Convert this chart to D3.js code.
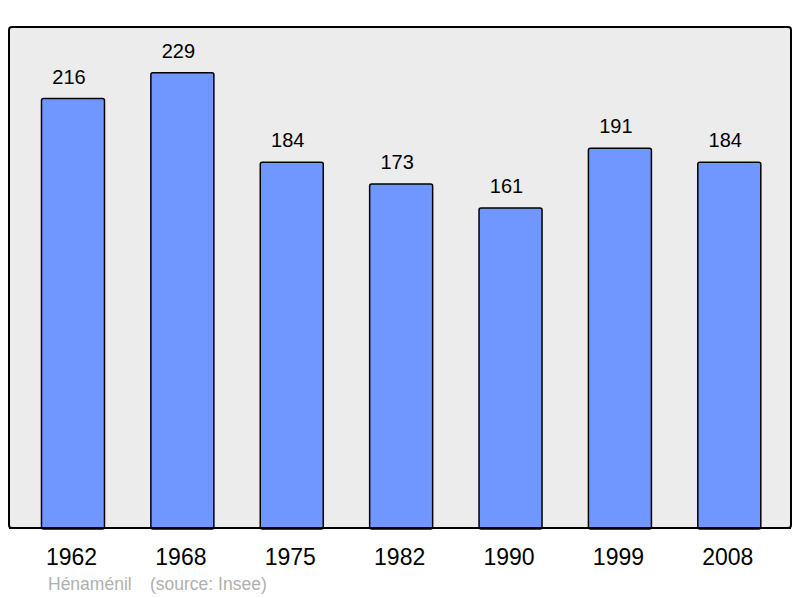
<!DOCTYPE html>
<html><head><meta charset="utf-8">
<script src="https://cdn.jsdelivr.net/npm/d3@7"></script>
<style>body{margin:0;background:#fff}svg{display:block}</style>
</head><body>
<svg id="c" width="800" height="598"></svg>
<script>
const years = ["1962","1968","1975","1982","1990","1999","2008"];
const population = [216,229,184,173,161,191,184];
const footerName = "Hénaménil";
const footerSource = "(source: Insee)";

const svg = d3.select("#c");
const frame = {x0:9, y0:27, x1:791, y1:528};
svg.append("rect").attr("x",frame.x0).attr("y",frame.y0)
  .attr("width",frame.x1-frame.x0).attr("height",frame.y1-frame.y0)
  .attr("rx",3).attr("fill","#ececec").attr("stroke","#000").attr("stroke-width",2);

const x = d3.scaleBand().domain(years).range([18.3,784]).paddingInner(0.424).paddingOuter(0.212);
const y = d3.scaleLinear().domain([0,252]).range([frame.y1, frame.y0]);

const g = svg.append("g");
g.selectAll("rect.bar").data(population).join("rect").attr("class","bar")
  .attr("x",(d,i)=>x(years[i])).attr("width",x.bandwidth())
  .attr("y",d=>y(d)).attr("height",d=>frame.y1-y(d)+1)
  .attr("rx",2).attr("fill","#7097ff").attr("stroke","#000").attr("stroke-width",1.5);

g.selectAll("text.val").data(population).join("text").attr("class","val")
  .attr("x",(d,i)=>x(years[i])+x.bandwidth()/2-4).attr("y",d=>y(d)-15)
  .attr("text-anchor","middle").attr("font-family","Liberation Sans, Arial, sans-serif")
  .attr("font-size",20).attr("fill","#000").text(d=>d);

svg.append("line").attr("x1",frame.x0).attr("x2",frame.x1).attr("y1",frame.y1).attr("y2",frame.y1)
  .attr("stroke","#000").attr("stroke-width",2);

const xAxis = svg.append("g").attr("transform",`translate(-1.5,${frame.y1})`)
  .call(d3.axisBottom(x).tickSize(0).tickPadding(21));
xAxis.select(".domain").remove();
xAxis.selectAll("text").attr("font-family","Liberation Sans, Arial, sans-serif").attr("font-size",23).attr("fill","#000");

svg.append("text").attr("x",48).attr("y",590).attr("font-family","Liberation Sans, Arial, sans-serif")
  .attr("font-size",17.5).attr("fill","#b0b0b0").text(footerName);
svg.append("text").attr("x",150).attr("y",590).attr("font-family","Liberation Sans, Arial, sans-serif")
  .attr("font-size",17.5).attr("fill","#b0b0b0").text(footerSource);
</script>
</body></html>
